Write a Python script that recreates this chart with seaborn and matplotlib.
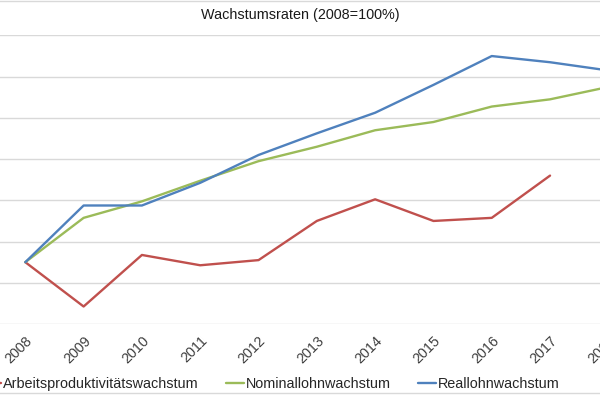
import numpy as np
import pandas as pd
import matplotlib
matplotlib.use("Agg")
import matplotlib.pyplot as plt
import seaborn as sns
from matplotlib.lines import Line2D
from matplotlib.patches import Rectangle

jahre = [2008, 2009, 2010, 2011, 2012, 2013, 2014, 2015, 2016, 2017, 2018]
arbeitsproduktivitaet = [100.0, 95.7, 100.7, 99.7, 100.2, 104.0, 106.1, 104.0, 104.3, 108.4, np.nan]
nominallohn = [100.0, 104.3, 105.9, 107.9, 109.8, 111.2, 112.8, 113.6, 115.1, 115.8, 117.0]
reallohn = [100.0, 105.5, 105.5, 107.7, 110.4, 112.5, 114.5, 117.2, 120.0, 119.4, 118.6]

serien = ["Arbeitsproduktivitätswachstum", "Nominallohnwachstum", "Reallohnwachstum"]
farben = {
    "Arbeitsproduktivitätswachstum": "#C0504D",
    "Nominallohnwachstum": "#9BBB59",
    "Reallohnwachstum": "#4F81BD",
}

df = pd.DataFrame({
    "Jahr": jahre * 3,
    "Wert": arbeitsproduktivitaet + nominallohn + reallohn,
    "Serie": [serien[0]] * len(jahre) + [serien[1]] * len(jahre) + [serien[2]] * len(jahre),
})

sns.set_style("white")
plt.rcParams['font.family'] = ['Liberation Sans', 'DejaVu Sans']
fs = 10.4

fig = plt.figure(figsize=(6, 3.95), dpi=100)
# Plotbereich ragt links und rechts über den Bildrand hinaus (Ausschnitt)
ax = fig.add_axes([-0.0064, 0.1797, 1.0689, 0.7306])

sns.lineplot(data=df, x="Jahr", y="Wert", hue="Serie", hue_order=serien,
             palette=farben, linewidth=1.7, legend=False, ax=ax)

ax.set_xlim(2007.5, 2018.5)
ax.set_ylim(94, 122)
ax.set_yticks(np.arange(94, 123, 4))
ax.set_xticks(jahre)
ax.set_xticklabels([str(j) for j in jahre], rotation=45, ha='right',
                   rotation_mode='anchor', fontsize=fs, color='#404040')
ax.tick_params(axis='x', length=0, pad=7)
ax.tick_params(axis='y', length=0)
ax.set_yticklabels([])
ax.set_xlabel("")
ax.set_ylabel("")
ax.grid(axis='y', color='#D9D9D9', linewidth=1)
ax.grid(axis='x', visible=False)
for s in ax.spines.values():
    s.set_visible(False)

fig.text(0.5, 1 - 15 / 395, "Wachstumsraten (2008=100%)", ha='center', va='center',
         fontsize=fs, color='#1a1a1a')

handles = [Line2D([0], [0], color=farben[s], linewidth=1.7) for s in serien]
fig.legend(handles, serien, loc='center left', bbox_to_anchor=(-0.028, 1 - 384 / 395),
           ncol=3, frameon=False, fontsize=fs, handlelength=1.25, handletextpad=0.15,
           columnspacing=1.85, borderpad=0, borderaxespad=0, labelcolor='#262626')

# Rahmen des Diagrammbereichs
fig.patches.append(Rectangle((-0.01, 0.004), 1.02, 0.993, transform=fig.transFigure,
                             fill=False, edgecolor='#D9D9D9', linewidth=1))

fig.savefig("out.png", dpi=100)
